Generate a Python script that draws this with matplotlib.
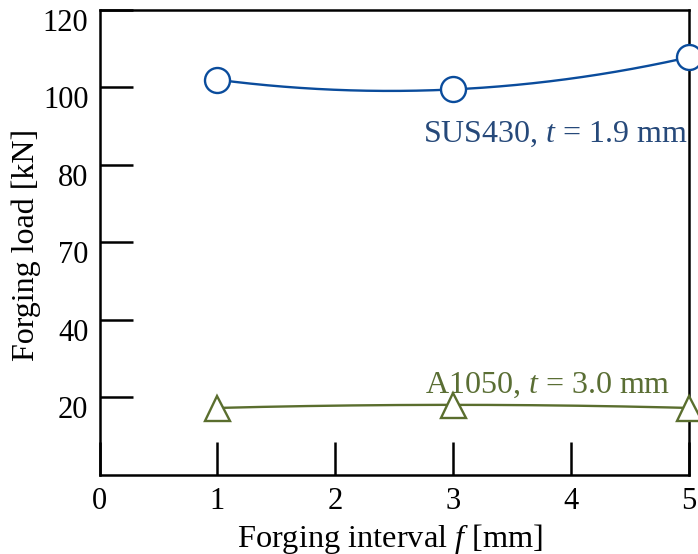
import matplotlib as mpl
mpl.use('Agg')
import matplotlib.pyplot as plt
import matplotlib.transforms as mtransforms
import numpy as np

# forging interval f [mm]
interval = [1, 3, 5]
# forging load [kN]
load_sus430 = [102.0, 99.5, 107.8]
load_a1050 = [17.3, 18.1, 17.3]

ytick_pos = [20, 40, 60, 80, 100, 120]
ytick_labels = ['20', '40', '70', '80', '100', '120']
xtick_pos = [0, 1, 2, 3, 4, 5]

blue = '#0a4c9c'
blue_text = '#26497a'
green = '#5a6e2e'
green_text = '#5a6e34'

mpl.rcParams['font.family'] = ['Liberation Serif', 'DejaVu Serif']
mpl.rcParams['mathtext.fontset'] = 'custom'
mpl.rcParams['mathtext.rm'] = 'Liberation Serif'
mpl.rcParams['mathtext.it'] = 'Liberation Serif:italic'

fig = plt.figure(figsize=(6.98, 5.54), dpi=100)
ax = fig.add_axes([0.1426, 0.1426, 0.9871 - 0.1426, 0.982 - 0.1426])


def smooth(x, y):
    # quadratic curve through the measured points
    c = np.polyfit(x, y, 2)
    xs = np.linspace(min(x), max(x), 200)
    return xs, np.polyval(c, xs)


for y, col, mk in [(load_sus430, blue, 'o'), (load_a1050, green, '^')]:
    xs, ys = smooth(interval, y)
    ax.plot(xs, ys, color=col, lw=1.7, clip_on=False, zorder=2)
    ax.plot(interval, y, linestyle='none', marker=mk, ms=18, mfc='white',
            mec=col, mew=1.7, clip_on=False, zorder=3)

ax.text(2.742, 86.0, 'SUS430, $t$ = 1.9 mm', color=blue_text, fontsize=23,
        ha='left', va='baseline')
ax.text(2.76, 21.2, 'A1050, $t$ = 3.0 mm', color=green_text, fontsize=23,
        ha='left', va='baseline')

ax.set_xlim(0, 5)
ax.set_ylim(0, 120)
ax.set_xticks(xtick_pos)
ax.set_yticks(ytick_pos)
ax.set_yticklabels(ytick_labels)

ax.tick_params(direction='in', length=24, width=1.8, labelsize=22, colors='black')
ax.tick_params(axis='x', pad=9)
ax.tick_params(axis='y', pad=8)
for s in ax.spines.values():
    s.set_linewidth(1.8)

# y labels sit a little below their ticks
offset = mtransforms.ScaledTranslation(0, -7 / 72, fig.dpi_scale_trans)
for lab in ax.get_yticklabels():
    lab.set_transform(lab.get_transform() + offset)

ax.set_xlabel('Forging interval $f$ [mm]', fontsize=23.3)
ax.set_ylabel('Forging load [kN]', fontsize=23)
ax.xaxis.set_label_coords(0.4935, -0.1)
ax.yaxis.set_label_coords(-0.0985, 0.495)

plt.savefig('out.png', dpi=100)
